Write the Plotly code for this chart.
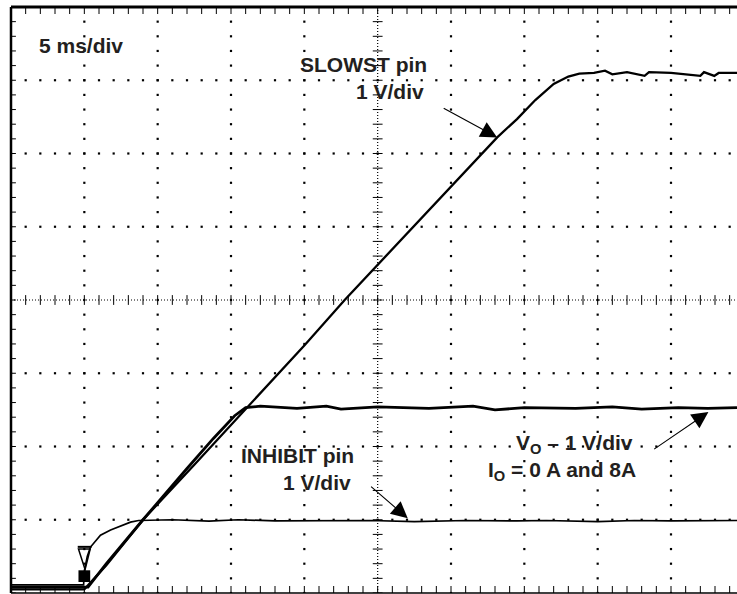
import numpy as np
import plotly.graph_objects as go

# ---------------- data (time in ms, 5 ms/div; amplitude in divisions, 1 V/div) ----------------
slowst_t = [0, 5.0, 6.5, 9.0, 12.5, 16.35, 20.0, 22.75, 26.5, 30.0, 33.15, 34.5, 35.75, 37.0,
            38.0, 38.75, 39.75, 40.5, 41.0, 42.0, 43.2, 43.5, 45.0, 47.0, 47.25, 47.95, 48.25, 49.5]
slowst_v = [0.05, 0.05, 0.38, 1.0, 1.75, 2.58, 3.38, 4.0, 4.80, 5.55, 6.22, 6.47, 6.73, 6.95,
            7.05, 7.09, 7.10, 7.13, 7.08, 7.11, 7.06, 7.11, 7.10, 7.06, 7.11, 7.06, 7.10, 7.10]

vo_t = [0, 5.25, 6.5, 9.0, 12.0, 13.8, 15.25, 16.0, 17.0, 19.5, 21.5, 22.5, 25.0, 28.5,
        31.5, 33.0, 35.0, 38.5, 41.0, 43.0, 45.5, 47.5, 49.5]
vo_v = [0.08, 0.08, 0.40, 1.0, 1.70, 2.11, 2.42, 2.53, 2.55, 2.52, 2.55, 2.51, 2.54, 2.52,
        2.55, 2.50, 2.53, 2.52, 2.54, 2.51, 2.53, 2.52, 2.53]

inhibit_t = [0, 4.95, 5.0, 5.2, 5.42, 6.1, 6.79, 7.45, 8.15, 8.7, 11.0, 13.5, 15.5, 18.0,
             21.0, 24.5, 27.5, 31.0, 34.5, 36.5, 40.0, 42.5, 45.0, 49.5]
inhibit_v = [0.11, 0.11, 0.30, 0.50, 0.627, 0.79, 0.86, 0.914, 0.968, 0.99, 1.0, 0.98, 1.0, 0.985,
             0.99, 0.99, 0.975, 0.99, 0.985, 0.99, 0.975, 0.99, 0.985, 0.99]

MS_PER_DIV = 5
N_XDIV = 10
N_YDIV = 8
X_MAX = 49.5  # visible part of the screen (right edge cropped)

fig = go.Figure()

# ---------------- graticule ----------------
sub = 0.2
ink = "black"
gx, gy = [], []
for i in range(1, N_XDIV):
    if i == 5:
        continue
    for k in np.arange(0, N_YDIV + 1e-9, sub):
        gx.append(i * MS_PER_DIV)
        gy.append(k)
for j in range(1, N_YDIV):
    if j == 4:
        continue
    for k in np.arange(0, N_XDIV + 1e-9, sub):
        gx.append(k * MS_PER_DIV)
        gy.append(j)
fig.add_trace(go.Scatter(x=gx, y=gy, mode="markers", hoverinfo="skip",
                         marker=dict(symbol="square", size=2.2, color=ink, line=dict(width=0)),
                         showlegend=False))

# center cross with ticks
fig.add_shape(type="line", x0=0, x1=N_XDIV * MS_PER_DIV, y0=4, y1=4, xref="x", yref="y",
              line=dict(color=ink, width=1.2, dash="1px,2px"), layer="below")
fig.add_shape(type="line", x0=5 * MS_PER_DIV, x1=5 * MS_PER_DIV, y0=0, y1=N_YDIV, xref="x", yref="y",
              line=dict(color=ink, width=1.2, dash="1px,2px"), layer="below")
tx = [k * MS_PER_DIV for k in np.arange(0, N_XDIV + 1e-9, sub)]
fig.add_trace(go.Scatter(x=tx, y=[4] * len(tx), mode="markers", hoverinfo="skip", showlegend=False,
                         marker=dict(symbol="line-ns", size=7, line=dict(width=1, color=ink))))
ty = list(np.arange(0, N_YDIV + 1e-9, sub))
fig.add_trace(go.Scatter(x=[5 * MS_PER_DIV] * len(ty), y=ty, mode="markers", hoverinfo="skip",
                         showlegend=False,
                         marker=dict(symbol="line-ew", size=7, line=dict(width=1, color=ink))))
# border ticks
fig.add_trace(go.Scatter(x=tx + tx, y=[N_YDIV] * len(tx) + [0] * len(tx), mode="markers",
                         hoverinfo="skip", showlegend=False,
                         marker=dict(symbol="line-ns", size=10, line=dict(width=1, color=ink))))
fig.add_trace(go.Scatter(x=[0] * len(ty), y=ty, mode="markers", hoverinfo="skip", showlegend=False,
                         marker=dict(symbol="line-ew", size=7, line=dict(width=1, color=ink))))

# borders
fig.add_shape(type="line", xref="paper", yref="paper", x0=0, x1=1, y0=1, y1=1,
              line=dict(color=ink, width=3))
fig.add_shape(type="line", xref="paper", yref="paper", x0=0, x1=0, y0=0, y1=1,
              line=dict(color=ink, width=2.5))
fig.add_shape(type="line", xref="paper", yref="paper", x0=0, x1=1, y0=0, y1=0,
              line=dict(color=ink, width=1.5))

# ---------------- traces ----------------
fig.add_trace(go.Scatter(x=inhibit_t, y=inhibit_v, mode="lines", name="INHIBIT",
                         line=dict(color=ink, width=1.7), showlegend=False))
fig.add_trace(go.Scatter(x=vo_t, y=vo_v, mode="lines", name="VO",
                         line=dict(color=ink, width=2.8), showlegend=False))
fig.add_trace(go.Scatter(x=slowst_t, y=slowst_v, mode="lines", name="SLOWST",
                         line=dict(color=ink, width=2.3), showlegend=False))

# channel ground markers
fig.add_shape(type="line", x0=4.55, x1=5.5, y0=0.63, y1=0.63, xref="x", yref="y",
              line=dict(color=ink, width=2))
fig.add_shape(type="path", path="M 4.6,0.6 L 5.4,0.6 L 5.05,0.32 Z", xref="x", yref="y",
              line=dict(color=ink, width=1.5))
fig.add_shape(type="rect", x0=4.6, x1=5.4, y0=0.15, y1=0.31, xref="x", yref="y",
              fillcolor=ink, line=dict(width=0))

# ---------------- text ----------------
font = dict(family="Liberation Sans, Arial, sans-serif", size=21, color="#231f20")
def label(text, x, y, xanchor):
    fig.add_annotation(text=text, x=x, y=y, xref="x", yref="y", xanchor=xanchor, yanchor="middle",
                       showarrow=False, font=font)

label("<b>5 ms/div</b>", 0.36 * MS_PER_DIV, 7.47, "left")
label("<b>SLOWST pin</b>", 5.70 * MS_PER_DIV, 7.21, "right")
label("<b>1 V/div</b>", 5.66 * MS_PER_DIV, 6.84, "right")
label("<b>INHIBIT pin</b>", 4.70 * MS_PER_DIV, 1.88, "right")
label("<b>1 V/div</b>", 4.66 * MS_PER_DIV, 1.51, "right")
label("<b>V<sub>O</sub> – 1 V/div</b>", 6.86 * MS_PER_DIV, 2.03, "left")
label("<b>I<sub>O</sub> = 0 A and 8A</b>", 8.55 * MS_PER_DIV, 1.66, "right")

def arrow(tip_x, tip_y, tail_x, tail_y):
    fig.add_annotation(text="", x=tip_x, y=tip_y, ax=tail_x, ay=tail_y, xref="x", yref="y",
                       axref="x", ayref="y", showarrow=True, arrowhead=2, arrowsize=3.0,
                       arrowwidth=1.1, arrowcolor=ink, standoff=0)

arrow(6.63 * MS_PER_DIV, 6.22, 5.88 * MS_PER_DIV, 6.63)
arrow(5.41 * MS_PER_DIV, 1.02, 4.89 * MS_PER_DIV, 1.47)
arrow(9.51 * MS_PER_DIV, 2.47, 8.75 * MS_PER_DIV, 1.95)

fig.update_xaxes(range=[0, X_MAX], visible=False, showgrid=False, zeroline=False, fixedrange=True)
fig.update_yaxes(range=[0, N_YDIV], visible=False, showgrid=False, zeroline=False, fixedrange=True)
fig.update_layout(width=737, height=594, autosize=False,
                  margin=dict(l=11, r=0, t=7, b=1, pad=0),
                  paper_bgcolor="white", plot_bgcolor="white", showlegend=False)

fig.write_html("out.html", config={"displayModeBar": False},
               post_script="document.body.style.margin='0';document.body.style.overflow='hidden';")
